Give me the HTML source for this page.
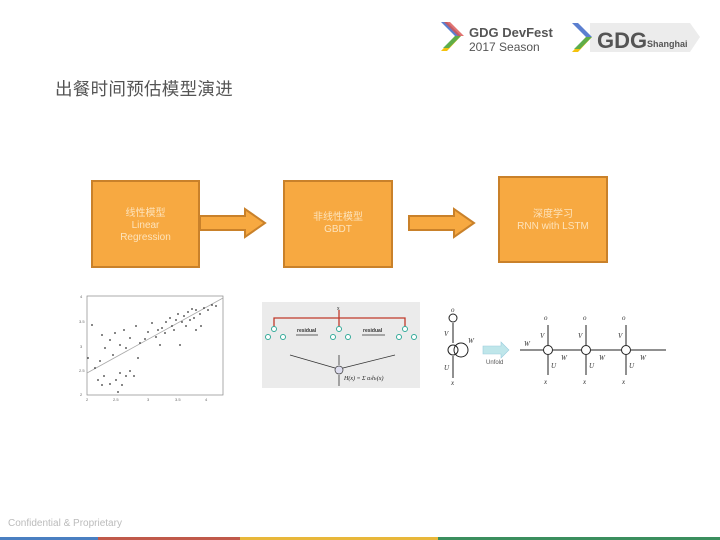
<!DOCTYPE html>
<html><head><meta charset="utf-8"><style>
body{margin:0;width:720px;height:540px;background:#fff;position:relative;overflow:hidden;font-family:"Liberation Sans","Noto Sans CJK SC",sans-serif}
.t{position:absolute;left:55px;top:76px;font-size:17.5px;color:#555;letter-spacing:0.3px}
.box{position:absolute;background:#f7a941;border:2.5px solid #c9812a;box-sizing:border-box;color:#fde3bb;font-size:10px;text-align:center;line-height:12px}
.ft{position:absolute;left:8px;top:518px;font-size:10px;color:#bbb}
</style></head><body>
<svg width="720" height="540" style="position:absolute;left:0;top:0">
<!-- logos -->
<g transform="translate(441,22)">
<polygon points="0,0 6,0 20,14 14,14" fill="#5b7fd0"/><polygon points="0,0 6,0 20,14 14,14" fill="#d9534f" transform="translate(3,0)" opacity=".8"/>
<polygon points="14,14 20,14 6,29 0,29" fill="#f4c20d"/><polygon points="14,14 20,14 8,26 2,26" fill="#3aa757" opacity=".8"/>
</g>
<text x="469" y="37" font-size="13" font-weight="bold" fill="#555" font-family="Liberation Sans">GDG DevFest</text>
<text x="469" y="51" font-size="12" fill="#555" font-family="Liberation Sans">2017 Season</text>
<polygon points="590,23 690,23 700,37 690,52 590,52" fill="#ececec"/>
<g transform="translate(572,23)">
<polygon points="0,0 6,0 20,14 14,14" fill="#5b7fd0"/>
<polygon points="14,14 20,14 6,29 0,29" fill="#f4c20d"/><polygon points="14,14 20,14 8,26 2,26" fill="#3aa757" opacity=".8"/>
</g>
<text x="597" y="48" font-size="22" font-weight="bold" fill="#555" font-family="Liberation Sans">GDG</text>
<text x="647" y="47" font-size="9" font-weight="bold" fill="#555" font-family="Liberation Sans">Shanghai</text>
<!-- arrows -->
<polygon points="200,216 245,216 245,209 265,223 245,237 245,230 200,230" fill="#f7a941" stroke="#c9812a" stroke-width="2"/>
<polygon points="409,216 454,216 454,209 474,223 454,237 454,230 409,230" fill="#f7a941" stroke="#c9812a" stroke-width="2"/>
<!-- scatter -->
<rect x="87" y="296" width="136" height="99" fill="none" stroke="#888" stroke-width="0.7"/>
<line x1="87" y1="373" x2="223" y2="298" stroke="#aaa" stroke-width="0.8"/>
<g fill="#333">
<circle cx="92" cy="325" r=".9"/><circle cx="102" cy="335" r=".9"/><circle cx="110" cy="340" r=".9"/><circle cx="115" cy="333" r=".9"/><circle cx="124" cy="330" r=".9"/><circle cx="130" cy="338" r=".9"/><circle cx="136" cy="326" r=".9"/><circle cx="140" cy="343" r=".9"/><circle cx="148" cy="332" r=".9"/><circle cx="152" cy="323" r=".9"/><circle cx="158" cy="330" r=".9"/><circle cx="162" cy="328" r=".9"/><circle cx="166" cy="322" r=".9"/><circle cx="170" cy="318" r=".9"/><circle cx="172" cy="326" r=".9"/><circle cx="176" cy="320" r=".9"/><circle cx="178" cy="314" r=".9"/><circle cx="182" cy="322" r=".9"/><circle cx="184" cy="316" r=".9"/><circle cx="188" cy="312" r=".9"/><circle cx="190" cy="320" r=".9"/><circle cx="194" cy="318" r=".9"/><circle cx="196" cy="310" r=".9"/><circle cx="200" cy="314" r=".9"/><circle cx="204" cy="308" r=".9"/><circle cx="208" cy="310" r=".9"/><circle cx="212" cy="305" r=".9"/><circle cx="216" cy="306" r=".9"/><circle cx="196" cy="330" r=".9"/><circle cx="180" cy="345" r=".9"/><circle cx="160" cy="345" r=".9"/><circle cx="138" cy="358" r=".9"/><circle cx="120" cy="345" r=".9"/><circle cx="105" cy="348" r=".9"/><circle cx="88" cy="358" r=".9"/><circle cx="95" cy="368" r=".9"/><circle cx="98" cy="380" r=".9"/><circle cx="102" cy="385" r=".9"/><circle cx="110" cy="384" r=".9"/><circle cx="116" cy="380" r=".9"/><circle cx="120" cy="373" r=".9"/><circle cx="122" cy="385" r=".9"/><circle cx="126" cy="376" r=".9"/><circle cx="130" cy="371" r=".9"/><circle cx="118" cy="392" r=".9"/><circle cx="134" cy="376" r=".9"/><circle cx="104" cy="376" r=".9"/><circle cx="165" cy="333" r=".9"/><circle cx="174" cy="330" r=".9"/><circle cx="186" cy="326" r=".9"/><circle cx="192" cy="309" r=".9"/><circle cx="156" cy="337" r=".9"/><circle cx="145" cy="339" r=".9"/><circle cx="126" cy="348" r=".9"/><circle cx="113" cy="355" r=".9"/><circle cx="100" cy="361" r=".9"/><circle cx="201" cy="326" r=".9"/></g>
<g font-size="4" fill="#666"><text x="80" y="298">4</text><text x="79" y="323">3.5</text><text x="80" y="348">3</text><text x="79" y="372">2.5</text><text x="80" y="396">2</text><text x="86" y="401">2</text><text x="113" y="401">2.5</text><text x="147" y="401">3</text><text x="175" y="401">3.5</text><text x="205" y="401">4</text></g>
<!-- GBDT -->
<rect x="262" y="302" width="158" height="86" fill="#ebebeb"/>
<g stroke="#c0392b" stroke-width="1.3" fill="none"><polyline points="274,327 274,318 405,318 405,327"/><line x1="339" y1="310" x2="339" y2="327"/></g>
<text x="337" y="310" font-size="5" fill="#333">x</text>
<g stroke="#3a9" fill="#fff" stroke-width="1"><circle cx="274" cy="329" r="2.5"/><circle cx="268" cy="337" r="2.5"/><circle cx="283" cy="337" r="2.5"/><circle cx="339" cy="329" r="2.5"/><circle cx="333" cy="337" r="2.5"/><circle cx="348" cy="337" r="2.5"/><circle cx="405" cy="329" r="2.5"/><circle cx="399" cy="337" r="2.5"/><circle cx="414" cy="337" r="2.5"/></g>
<g stroke="#333" stroke-width=".8"><line x1="296" y1="335" x2="318" y2="335"/><line x1="362" y1="335" x2="385" y2="335"/><line x1="290" y1="355" x2="335" y2="368"/><line x1="395" y1="355" x2="343" y2="368"/><line x1="339" y1="355" x2="339" y2="365"/><line x1="339" y1="375" x2="339" y2="386"/></g>
<g font-size="5" font-weight="bold" fill="#333"><text x="297" y="332">residual</text><text x="363" y="332">residual</text></g>
<circle cx="339" cy="370" r="4" fill="#dde" stroke="#333" stroke-width=".7"/>
<text x="344" y="380" font-size="6" font-style="italic" fill="#222" font-family="Liberation Serif">H(x) = Σ αₜhₜ(x)</text>
<!-- RNN -->
<g stroke="#222" stroke-width="1" fill="none"><circle cx="453" cy="318" r="4"/><circle cx="453" cy="350" r="5"/><circle cx="461" cy="350" r="7"/>
<line x1="453" y1="343" x2="453" y2="323"/><line x1="453" y1="378" x2="453" y2="356"/>
<circle cx="548" cy="350" r="4.5"/><circle cx="586" cy="350" r="4.5"/><circle cx="626" cy="350" r="4.5"/>
<line x1="520" y1="350" x2="543" y2="350"/><line x1="553" y1="350" x2="581" y2="350"/><line x1="591" y1="350" x2="621" y2="350"/><line x1="631" y1="350" x2="666" y2="350"/>
<line x1="548" y1="345" x2="548" y2="325"/><line x1="586" y1="345" x2="586" y2="325"/><line x1="626" y1="345" x2="626" y2="325"/>
<line x1="548" y1="375" x2="548" y2="355"/><line x1="586" y1="375" x2="586" y2="355"/><line x1="626" y1="375" x2="626" y2="355"/></g>
<polygon points="483,346 501,346 501,342 509,350 501,358 501,354 483,354" fill="#bfe6ea" stroke="#9cd" stroke-width=".6"/>
<g font-size="7" fill="#333" font-family="Liberation Serif" font-style="italic"><text x="451" y="312">o</text><text x="444" y="336">V</text><text x="444" y="370">U</text><text x="451" y="385">x</text><text x="468" y="343">W</text>
<text x="524" y="346">W</text><text x="561" y="360">W</text><text x="599" y="360">W</text><text x="640" y="360">W</text>
<text x="544" y="320">o</text><text x="583" y="320">o</text><text x="622" y="320">o</text><text x="540" y="338">V</text><text x="578" y="338">V</text><text x="618" y="338">V</text>
<text x="551" y="368">U</text><text x="589" y="368">U</text><text x="629" y="368">U</text><text x="544" y="384">x</text><text x="583" y="384">x</text><text x="622" y="384">x</text></g>
<text x="486" y="364" font-size="6" fill="#555">Unfold</text>
<!-- footer bar -->
<rect x="0" y="537" width="98" height="3" fill="#4a7fc1"/><rect x="98" y="537" width="142" height="3" fill="#c0594a"/><rect x="240" y="537" width="198" height="3" fill="#e8b73a"/><rect x="438" y="537" width="282" height="3" fill="#3b8e5e"/>
</svg>
<div class="t">出餐时间预估模型演进</div>
<div class="box" style="left:91px;top:180px;width:109px;height:88px;padding-top:26px">线性模型<br>Linear<br>Regression</div>
<div class="box" style="left:283px;top:180px;width:110px;height:88px;padding-top:30px">非线性模型<br>GBDT</div>
<div class="box" style="left:498px;top:176px;width:110px;height:87px;padding-top:31px">深度学习<br>RNN with LSTM</div>
<div class="ft">Confidential &amp; Proprietary</div>
</body></html>
